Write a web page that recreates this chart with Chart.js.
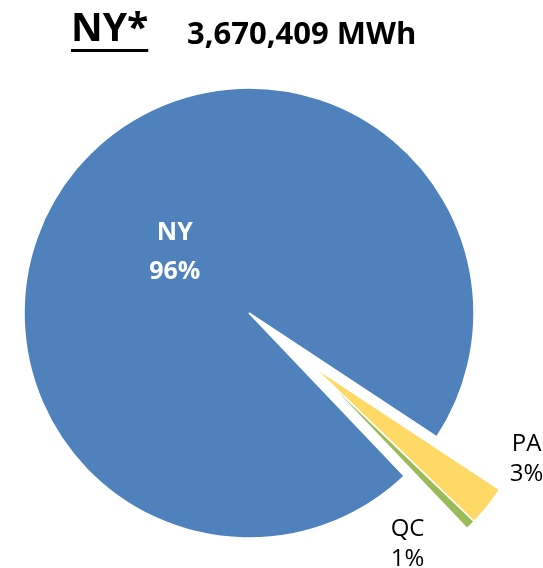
<!DOCTYPE html>
<html>
<head>
<meta charset="utf-8">
<script src="https://cdn.jsdelivr.net/npm/chart.js@4.4.0/dist/chart.umd.min.js"></script>
<style>
  body { margin: 0; background: #fff; }
  #wrap { position: relative; width: 543px; height: 568px; }
  .ttl { position: absolute; font-family: 'Open Sans', sans-serif; font-weight: bold; line-height: 1; white-space: nowrap; color: #000; }
  #t1 { left: 71px; top: 6px; font-size: 39px; text-decoration: underline; text-decoration-thickness: 3px; text-underline-offset: 8px; }
  #t2 { left: 187px; top: 17px; font-size: 31px; }
</style>
</head>
<body>
<div id="wrap">
  <div class="ttl" id="t1">NY*</div>
  <div class="ttl" id="t2">3,670,409 MWh</div>
  <canvas id="grafico"></canvas>
</div>
<script>
// dados
const regioes = ['NY', 'PA', 'QC'];
const participacao = [96.4, 2.9, 0.7]; // % do total de MWh
const destacados = [false, true, true]; // fatias "explodidas"

// deslocamento das fatias destacadas
const distExplosao = 82;

// onde ficam os rótulos externos (relativo ao ponto médio do arco)
const ajusteRotulo = [null, { dx: 39, dy: -49 }, { dx: -63, dy: 17 }];

const explodir = {
  id: 'explodir',
  beforeDatasetDraw(chart, args) {
    const ctx = chart.ctx;
    const arcs = args.meta.data;
    const sel = arcs.filter((a, i) => destacados[i]);
    const ang = (sel[0].startAngle + sel[sel.length - 1].endAngle) / 2;
    chart.$desloc = { x: Math.cos(ang) * distExplosao, y: Math.sin(ang) * distExplosao };
    arcs.forEach((arc, i) => {
      ctx.save();
      if (destacados[i]) ctx.translate(chart.$desloc.x, chart.$desloc.y);
      arc.draw(ctx, chart.chartArea);
      ctx.restore();
    });
    return false;
  },
  afterDraw(chart) {
    const ctx = chart.ctx;
    const arcs = chart.getDatasetMeta(0).data;
    ctx.save();
    ctx.textAlign = 'center';
    ctx.textBaseline = 'alphabetic';
    arcs.forEach((arc, i) => {
      const mid = (arc.startAngle + arc.endAngle) / 2;
      const linhas = [regioes[i], Math.round(participacao[i]) + '%'];
      let x, y, tam, gap;
      if (!destacados[i]) {
        x = arc.x + Math.cos(mid) * arc.outerRadius * 0.43;
        y = arc.y + Math.sin(mid) * arc.outerRadius * 0.43;
        tam = 25; gap = 39;
        ctx.font = 'bold 25px "Open Sans"';
        ctx.fillStyle = '#fff';
      } else {
        x = arc.x + chart.$desloc.x + Math.cos(mid) * arc.outerRadius + ajusteRotulo[i].dx;
        y = arc.y + chart.$desloc.y + Math.sin(mid) * arc.outerRadius + ajusteRotulo[i].dy;
        tam = 24; gap = 30;
        ctx.font = '24px "Open Sans"';
        ctx.fillStyle = '#000';
      }
      const cap = tam * 0.714;
      ctx.fillText(linhas[0], x, y - gap / 2 + cap / 2);
      ctx.fillText(linhas[1], x, y + gap / 2 + cap / 2);
    });
    ctx.restore();
  }
};

const ctx = document.getElementById('grafico').getContext('2d');

const grafico = new Chart(ctx, {
  type: 'pie',
  data: {
    labels: regioes,
    datasets: [
      {
        data: participacao,
        backgroundColor: ['#4F81BD', '#FFD966', '#9BBB59'],
        borderColor: '#fff',
        borderWidth: 1.5,
      },
    ],
  },
  options: {
    responsive: true,
    maintainAspectRatio: false,
    animation: false,
    rotation: 136.4,
    radius: 225,
    layout: { padding: { left: 0, right: 45, top: 58, bottom: 0 } },
    plugins: {
      legend: { display: false },
      tooltip: { enabled: false },
    },
  },
  plugins: [explodir],
});
</script>
</body>
</html>
